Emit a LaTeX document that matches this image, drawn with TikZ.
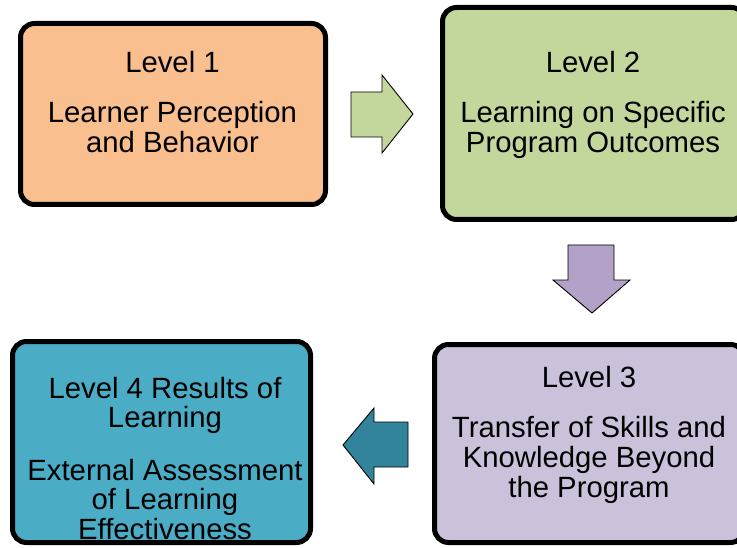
\documentclass[tikz,border=0pt]{standalone}
\usepackage{fontspec}
\setmainfont{Liberation Sans}
\definecolor{lvOne}{HTML}{F9BF8F}
\definecolor{lvTwo}{HTML}{C3D69B}
\definecolor{lvThreeArrow}{HTML}{B2A2C7}
\definecolor{lvThree}{HTML}{CCC1DA}
\definecolor{lvFour}{HTML}{4BACC6}
\definecolor{lvFourArrow}{HTML}{31849B}
\tikzset{
  levelbox/.style={draw=black, line width=5bp, rounded corners=14bp},
  blockarrow/.style={draw=black, line width=0.9bp, line join=miter},
  lbl/.style={anchor=base, inner sep=0pt, font=\fontsize{29.3bp}{30bp}\selectfont}
}
\begin{document}
\begin{tikzpicture}[x=1bp, y=-1bp]
\useasboundingbox (0,0) rectangle (737,548);
\clip (0,0) rectangle (737,548);
\fill[white] (0,0) rectangle (737,548);

% the four level boxes
\draw[levelbox, fill=lvOne]   (20.5,23.5)  rectangle (325.5,204.5);
\draw[levelbox, fill=lvTwo]   (442.5,7.5)  rectangle (745.5,219.5);
\draw[levelbox, fill=lvThree] (434.5,344.5) rectangle (744.5,542.5);
\draw[levelbox, fill=lvFour]  (12.5,341.5) rectangle (310.5,542.5);

% block arrows between levels
\draw[blockarrow, fill=lvTwo] (351,92) -- (382,92) -- (382,75) -- (413,114)
  -- (382,153) -- (382,137) -- (351,137) -- cycle;
\draw[blockarrow, fill=lvThreeArrow] (568,245) -- (614,245) -- (614,280)
  -- (630,280) -- (592,313) -- (553,280) -- (568,280) -- cycle;
\draw[blockarrow, fill=lvFourArrow] (408,422) -- (408,467) -- (374,467)
  -- (374,484) -- (343,445) -- (374,408) -- (374,422) -- cycle;

% Level 1
\node[lbl] (l1a) at (172.5,73)  {Level 1};
\node[lbl] (l1b) at (172.5,123) {Learner Perception};
\node[lbl] (l1c) at (172.5,153) {and Behavior};

% Level 2
\node[lbl] (l2a) at (593,73)  {Level 2};
\node[lbl] (l2b) at (593,123) {Learning on Specific};
\node[lbl] (l2c) at (593,153) {Program Outcomes};

% Level 3
\node[lbl] (l3a) at (589,387) {Level 3};
\node[lbl] (l3b) at (589,437) {Transfer of Skills and};
\node[lbl] (l3c) at (589,467) {Knowledge Beyond};
\node[lbl] (l3d) at (589,497) {the Program};

% Level 4
\node[lbl] (l4a) at (165,398) {Level 4 Results of};
\node[lbl] (l4b) at (165,427) {Learning};
\node[lbl] (l4c) at (165,480) {External Assessment};
\node[lbl] (l4d) at (165,509) {of Learning};
\node[lbl] (l4e) at (165,539) {Effectiveness};
\end{tikzpicture}
\end{document}
